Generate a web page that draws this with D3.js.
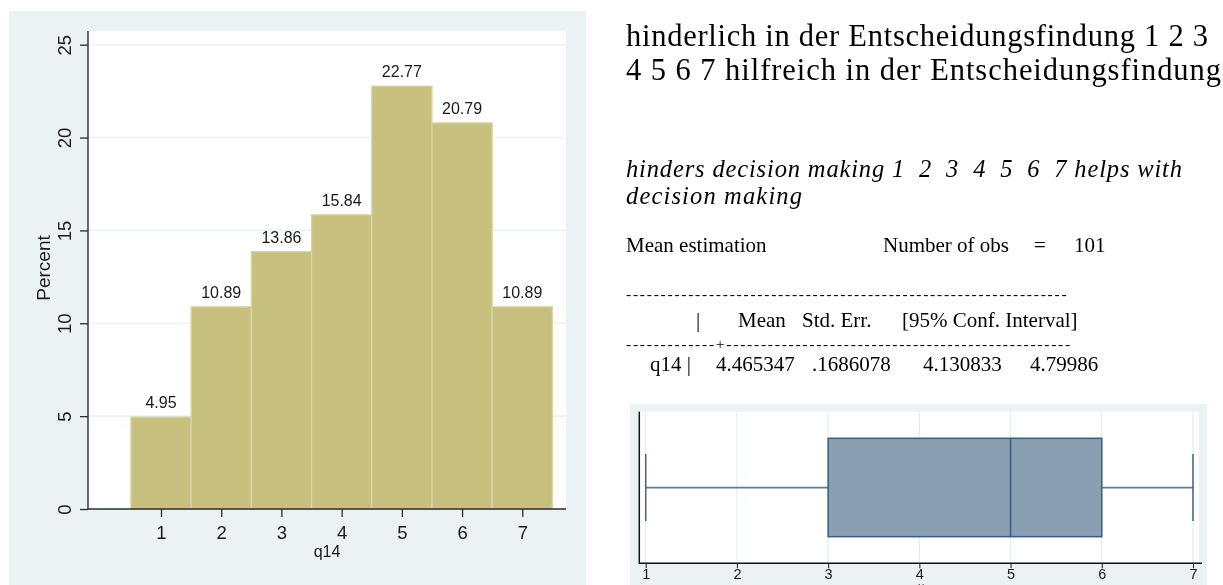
<!DOCTYPE html>
<html>
<head>
<meta charset="utf-8">
<script src="https://cdn.jsdelivr.net/npm/d3@7/dist/d3.min.js"></script>
<style>
  html, body { margin: 0; padding: 0; background: #ffffff; }
  svg { display: block; will-change: transform; }
  .serif { font-family: "Liberation Serif", "Times New Roman", serif; fill: #000; }
  .sans { font-family: "Liberation Sans", Arial, sans-serif; fill: #1a1a1a; }
</style>
</head>
<body>
<svg id="chart" width="1223" height="585"></svg>
<script>
// ---- data ----
const categories = [1, 2, 3, 4, 5, 6, 7];
const percents = [4.95, 10.89, 13.86, 15.84, 22.77, 20.79, 10.89];
const yTicks = [0, 5, 10, 15, 20, 25];
const varName = "q14";
const yTitle = "Percent";

// five-number summary for the box plot
const boxKeys = ["min", "q1", "median", "q3", "max"];
const boxValues = [1, 3, 5, 6, 7];

const titleLines = [
  "hinderlich in der Entscheidungsfindung 1 2 3",
  "4 5 6 7 hilfreich in der Entscheidungsfindung"
];
const subtitleLines = [
  "hinders decision making 1  2  3  4  5  6  7 helps with",
  "decision making"
];
const estLabel = "Mean estimation";
const nObsLabel = "Number of obs";
const nObs = 101;
const statHeaders = ["Mean", "Std. Err.", "[95% Conf. Interval]"];
const statValues = ["4.465347", ".1686078", "4.130833", "4.79986"];

// ---- setup ----
const svg = d3.select("#chart");
svg.append("rect").attr("width", 1223).attr("height", 585).attr("fill", "#ffffff");

const panelBg = "#EAF2F3";
const axisColor = "#2b2b2b";

// ================= histogram =================
const hist = svg.append("g");
const plotL = 88, plotR = 566, plotT = 31, plotB = 509;

hist.append("rect").attr("x", 9).attr("y", 11).attr("width", 577).attr("height", 580).attr("fill", panelBg);
hist.append("rect").attr("x", plotL).attr("y", plotT).attr("width", plotR - plotL).attr("height", plotB - plotT).attr("fill", "#ffffff");

const x = d3.scaleLinear().domain([1, 7]).range([161, 522.3]);
const y = d3.scaleLinear().domain([0, 25]).range([plotB, 44.7]);

// horizontal grid
hist.append("g").selectAll("line")
  .data(yTicks.filter(t => t > 0))
  .join("line")
  .attr("x1", plotL).attr("x2", plotR)
  .attr("y1", d => y(d)).attr("y2", d => y(d))
  .attr("stroke", panelBg).attr("stroke-width", 1.6);

// bars
hist.append("g").selectAll("rect")
  .data(categories)
  .join("rect")
  .attr("x", (c) => x(c - 0.5))
  .attr("width", (c) => x(c + 0.5) - x(c - 0.5))
  .attr("y", (c, i) => y(percents[i]))
  .attr("height", (c, i) => y(0) - y(percents[i]))
  .attr("fill", "#C7C07F")
  .attr("stroke", "#DAD5A6")
  .attr("stroke-width", 1.3);

// bar value labels
hist.append("g").selectAll("text")
  .data(categories)
  .join("text")
  .attr("class", "sans")
  .attr("x", c => x(c))
  .attr("y", (c, i) => y(percents[i]) - 8.7)
  .attr("text-anchor", "middle")
  .style("font-size", "16px")
  .text((c, i) => percents[i].toFixed(2));

// y axis
const yAxis = hist.append("g").attr("transform", `translate(${plotL},0)`)
  .call(d3.axisLeft(y).tickValues(yTicks).tickSize(8).tickFormat(d3.format("d")));
yAxis.select(".domain").remove();
yAxis.selectAll(".tick line").attr("stroke", axisColor).attr("stroke-width", 1.3);
yAxis.selectAll(".tick text")
  .attr("class", "sans")
  .attr("transform", "rotate(-90)")
  .attr("x", 0).attr("y", -17).attr("dy", 0)
  .attr("text-anchor", "middle")
  .style("font-size", "18.5px");
hist.append("line").attr("x1", plotL).attr("x2", plotL).attr("y1", plotT).attr("y2", plotB + 0.6)
  .attr("stroke", axisColor).attr("stroke-width", 1.4);

// x axis
const xAxis = hist.append("g").attr("transform", `translate(0,${plotB})`)
  .call(d3.axisBottom(x).tickValues(categories).tickSize(8).tickFormat(d3.format("d")));
xAxis.select(".domain").remove();
xAxis.selectAll(".tick line").attr("stroke", axisColor).attr("stroke-width", 1.3);
xAxis.selectAll(".tick text")
  .attr("class", "sans")
  .attr("y", 30.3).attr("dy", 0)
  .style("font-size", "18.5px");
hist.append("line").attr("x1", plotL - 0.6).attr("x2", plotR).attr("y1", plotB).attr("y2", plotB)
  .attr("stroke", axisColor).attr("stroke-width", 1.4);

// axis titles
hist.append("text").attr("class", "sans")
  .attr("transform", `translate(50,${(plotT + plotB) / 2 - 2}) rotate(-90)`)
  .attr("text-anchor", "middle")
  .style("font-size", "19px")
  .text(yTitle);
hist.append("text").attr("class", "sans")
  .attr("x", (plotL + plotR) / 2).attr("y", 557.3)
  .attr("text-anchor", "middle")
  .style("font-size", "16px")
  .text(varName);

// ================= text block =================
const txt = svg.append("g");
const tx = 626;

// wrapped heading: one text element, one tspan per line, each line stretched to its measure
function paragraph(lines, widths, y0, lineGap, size, italic) {
  const t = txt.append("text").attr("class", "serif")
    .style("font-size", size)
    .style("white-space", "pre");
  if (italic) t.style("font-style", "italic");
  lines.forEach((line, i) => {
    t.append("tspan").attr("x", tx).attr("y", y0 + i * lineGap)
      .attr("textLength", widths[i]).attr("lengthAdjust", "spacing")
      .text(line);
  });
}
paragraph(titleLines, [582, 595], 46, 33.8, "30.5px", false);
paragraph(subtitleLines, [556, 176], 176.5, 27.2, "24.5px", true);

const fs = "21px";
txt.append("text").attr("class", "serif").attr("x", tx).attr("y", 252).style("font-size", fs).text(estLabel);
txt.append("text").attr("class", "serif").attr("x", 883).attr("y", 252).style("font-size", fs).text(nObsLabel);
txt.append("text").attr("class", "serif").attr("x", 1034).attr("y", 252).style("font-size", fs).text("=");
txt.append("text").attr("class", "serif").attr("x", 1074).attr("y", 252).style("font-size", fs).text(String(nObs));

// rule lines of the estimation table (hyphens set small and spaced out to keep the rows compact)
const ruleStyle = sel => sel.attr("class", "serif").style("font-size", "15.5px").style("letter-spacing", "1.75px");
txt.append("text").call(ruleStyle).attr("x", tx).attr("y", 299)
  .text("-".repeat(64));
txt.append("text").attr("class", "serif").attr("x", 696).attr("y", 327).style("font-size", fs).text("|");
const headerX = [738, 802, 902];
statHeaders.forEach((h, i) => {
  txt.append("text").attr("class", "serif").attr("x", headerX[i]).attr("y", 327).style("font-size", fs).text(h);
});
txt.append("text").call(ruleStyle).attr("x", tx).attr("y", 349)
  .text("-".repeat(13) + "+" + "-".repeat(50));
txt.append("text").attr("class", "serif").attr("x", 650).attr("y", 371).style("font-size", fs).text(varName + " |");
const valueX = [716, 812, 923, 1030];
statValues.forEach((v, i) => {
  txt.append("text").attr("class", "serif").attr("x", valueX[i]).attr("y", 371).style("font-size", fs).text(v);
});

// ================= box plot =================
const box = svg.append("g");
const bL = 639.3, bR = 1199, bT = 411.7, bB = 563.3;
box.append("rect").attr("x", 630).attr("y", 404).attr("width", 577).attr("height", 200).attr("fill", panelBg);
box.append("rect").attr("x", bL).attr("y", bT).attr("width", bR - bL).attr("height", bB - bT).attr("fill", "#ffffff");

const xb = d3.scaleLinear().domain([1, 7]).range([645.7, 1193]);
const stat = k => boxValues[boxKeys.indexOf(k)];

// vertical grid
box.append("g").selectAll("line")
  .data(categories)
  .join("line")
  .attr("x1", d => xb(d)).attr("x2", d => xb(d))
  .attr("y1", bT).attr("y2", bB)
  .attr("stroke", "#E3EDF0").attr("stroke-width", 1.2);

const midY = 487.7, capT = 454, capB = 521, boxT = 438.3, boxB = 536.7;
const whiskerColor = "#5F7D97";
// whiskers
box.append("line").attr("x1", xb(stat("min"))).attr("x2", xb(stat("q1"))).attr("y1", midY).attr("y2", midY)
  .attr("stroke", whiskerColor).attr("stroke-width", 1.8);
box.append("line").attr("x1", xb(stat("q3"))).attr("x2", xb(stat("max"))).attr("y1", midY).attr("y2", midY)
  .attr("stroke", whiskerColor).attr("stroke-width", 1.8);
["min", "max"].forEach(k => {
  box.append("line").attr("x1", xb(stat(k))).attr("x2", xb(stat(k))).attr("y1", capT).attr("y2", capB)
    .attr("stroke", "#3E6384").attr("stroke-width", 1.5);
});
// box and median
box.append("rect")
  .attr("x", xb(stat("q1"))).attr("width", xb(stat("q3")) - xb(stat("q1")))
  .attr("y", boxT).attr("height", boxB - boxT)
  .attr("fill", "#8A9FB2").attr("stroke", "#3A5E80").attr("stroke-width", 1.5);
box.append("line").attr("x1", xb(stat("median"))).attr("x2", xb(stat("median"))).attr("y1", boxT).attr("y2", boxB)
  .attr("stroke", "#3A5E80").attr("stroke-width", 1.5);

// axes
const bxAxis = box.append("g").attr("transform", `translate(0,${bB})`)
  .call(d3.axisBottom(xb).tickValues(categories).tickSize(5).tickFormat(d3.format("d")));
bxAxis.select(".domain").remove();
bxAxis.selectAll(".tick line").attr("stroke", axisColor).attr("stroke-width", 1.1);
bxAxis.selectAll(".tick text").attr("class", "sans").attr("y", 16).attr("dy", 0).style("font-size", "14.5px");
box.append("line").attr("x1", bL).attr("x2", bR + 3).attr("y1", bB).attr("y2", bB).attr("stroke", "#111").attr("stroke-width", 1.5);
box.append("line").attr("x1", bL).attr("x2", bL).attr("y1", bT).attr("y2", bB + 0.7).attr("stroke", "#111").attr("stroke-width", 1.5);
box.append("text").attr("class", "sans").attr("x", xb(4)).attr("y", 588).attr("text-anchor", "middle")
  .style("font-size", "6px").text(varName);
</script>
</body>
</html>
